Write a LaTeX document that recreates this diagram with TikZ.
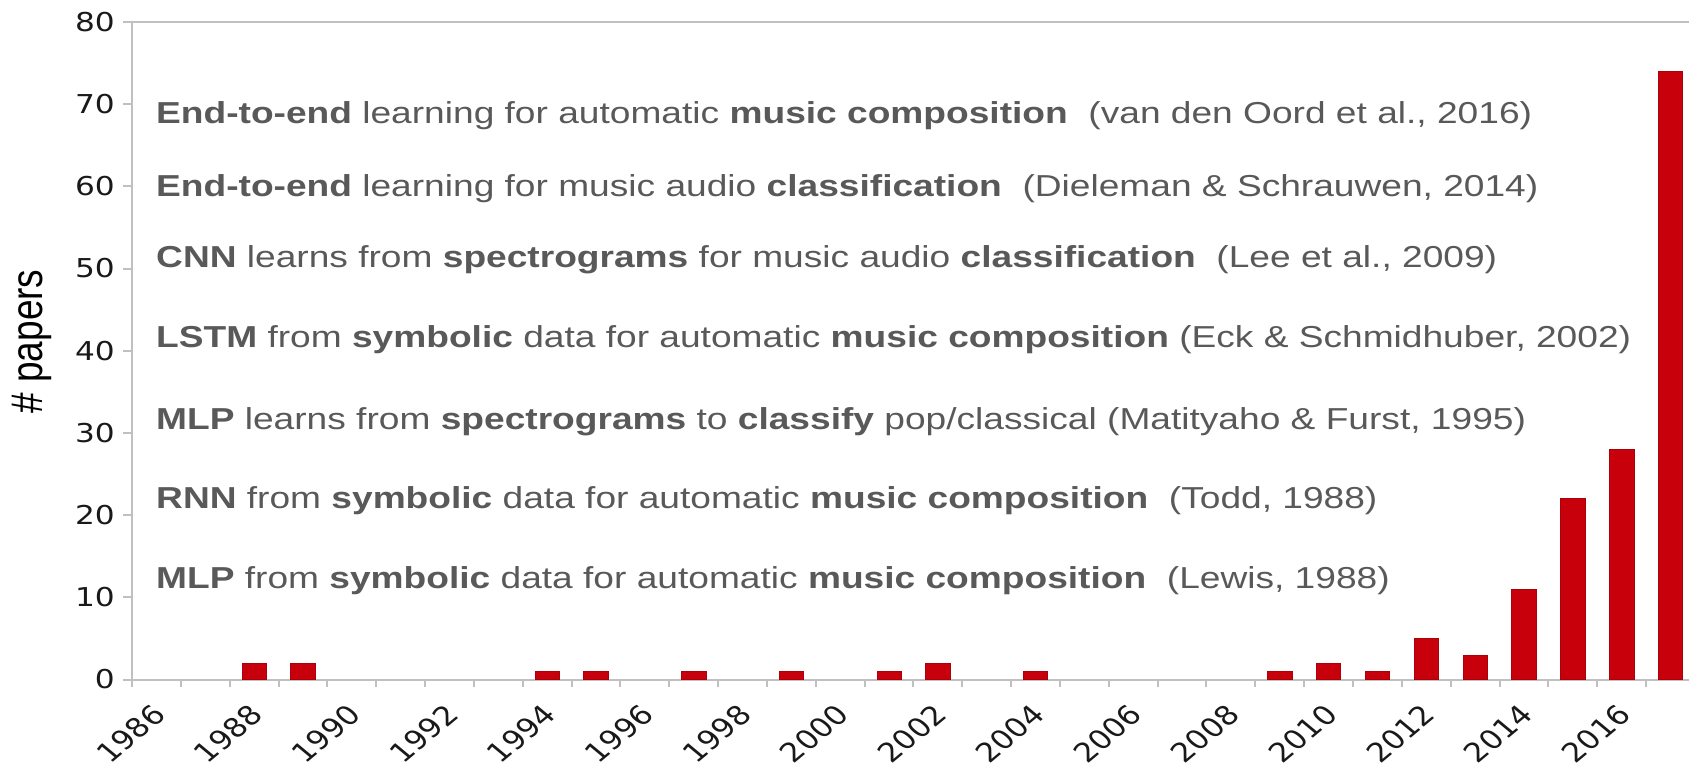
\documentclass[tikz,border=0pt]{standalone}
\usepackage{fontspec}
\setmainfont{Liberation Sans}[FakeStretch=1.225]
\newfontfamily\titlefont{Liberation Sans}
\newfontfamily\tickfont[FakeStretch=1.2]{DejaVu Sans}
\newfontfamily\yearfont{DejaVu Sans}
\definecolor{txtgray}{RGB}{89,89,89}
\definecolor{axgray}{RGB}{192,192,192}
\definecolor{barred}{RGB}{200,0,12}
\definecolor{ticktxt}{RGB}{25,25,25}
\tikzset{
  axisline/.style={draw=axgray, line width=2pt},
  barbox/.style={fill=barred, draw=barred!85!black, line width=0.6pt},
  ylab/.style={anchor=east, inner sep=0pt, text=ticktxt, font=\tickfont\fontsize{26}{26}\selectfont},
  xlab/.style={anchor=center, cm={0.8485,0.7071,-0.8485,0.7071,(0,0)}, inner sep=0pt, text=ticktxt, font=\yearfont\fontsize{26.5}{26.5}\selectfont},
  note/.style={anchor=base west, inner sep=0pt, text=txtgray, font=\fontsize{30.3}{36}\selectfont},
}
\begin{document}
\begin{tikzpicture}[x=1pt,y=-1pt]
\useasboundingbox (0,0) rectangle (1689,768);
\pgfmathsetmacro{\dx}{48.84}
\pgfmathsetmacro{\uy}{8.22}
% frame and axes
\coordinate (tl) at (123,22);
\coordinate (tr) at (1689,22);
\coordinate (bl) at (123,679.5);
\coordinate (br) at (1689,679.5);
\coordinate (ytop) at (132,22);
\coordinate (ybot) at (132,687);
\draw[axisline] (tl) -- (tr);
\draw[axisline] (bl) -- (br);
\draw[axisline] (ytop) -- (ybot);
% y ticks and labels
\foreach \v in {0,10,...,80}{
  \pgfmathsetmacro{\yy}{679.5-\v*\uy}
  \draw[axisline] (123,\yy) -- (132,\yy);
  \node[ylab] (yl\v) at (115,\yy) {\v};
}
% x ticks
\foreach \k in {0,...,31}{
  \pgfmathsetmacro{\xx}{132+\k*\dx}
  \draw[axisline] (\xx,679.5) -- (\xx,687);
}
% x labels
\foreach \yr in {1986,1988,...,2016}{
  \pgfmathsetmacro{\cx}{132+(\yr-1986+0.5)*\dx}
  \node[xlab] (xl\yr) at (\cx-25.8,733.5) {\yr};
}
% bars
\foreach \yr/\n in {1988/2,1989/2,1994/1,1995/1,1997/1,1999/1,2001/1,2002/2,2004/1,2009/1,2010/2,2011/1,2012/5,2013/3,2014/11,2015/22,2016/28,2017/74}{
  \pgfmathsetmacro{\cx}{132+(\yr-1986+0.5)*\dx}
  \pgfmathsetmacro{\top}{679.5-\n*\uy}
  \draw[barbox] (\cx-12.2,679.5) rectangle (\cx+12.2,\top);
}
% y axis title
\node[anchor=base, rotate=90, inner sep=0pt, font=\titlefont\fontsize{37}{40}\selectfont] (ytitle) at (42,341.5) {\scalebox{1}[1.2]{\# papers}};
% annotations
\node[note] (n1) at (156,123) {\textbf{End-to-end} learning for automatic \textbf{music composition}\ \ (van den Oord et al., 2016)};
\node[note] (n2) at (156,196) {\textbf{End-to-end} learning for music audio \textbf{classification}\ \ (Dieleman \& Schrauwen, 2014)};
\node[note] (n3) at (156,267) {\textbf{CNN} learns from \textbf{spectrograms} for music audio \textbf{classification}\ \ (Lee et al., 2009)};
\node[note] (n4) at (156,347) {\textbf{LSTM} from \textbf{symbolic} data for automatic \textbf{music composition} (Eck \& Schmidhuber, 2002)};
\node[note] (n5) at (156,429) {\textbf{MLP} learns from \textbf{spectrograms} to \textbf{classify} pop/classical (Matityaho \& Furst, 1995)};
\node[note] (n6) at (156,508) {\textbf{RNN} from \textbf{symbolic} data for automatic \textbf{music composition}\ \ (Todd, 1988)};
\node[note] (n7) at (156,588) {\textbf{MLP} from \textbf{symbolic} data for automatic \textbf{music composition}\ \ (Lewis, 1988)};
\end{tikzpicture}
\end{document}
